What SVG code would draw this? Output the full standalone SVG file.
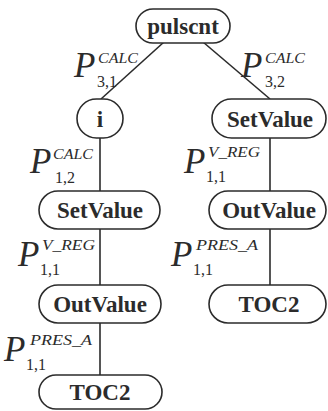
<svg xmlns="http://www.w3.org/2000/svg" width="328" height="411" viewBox="0 0 328 411">
  <style>
    .box { fill: #ffffff; stroke: #2b2b2b; stroke-width: 1.6; }
    .edge { stroke: #2b2b2b; stroke-width: 1.6; fill: none; }
    .name { font-family: "Liberation Serif", "Times New Roman", serif; font-weight: bold; font-size: 23px; fill: #2b2b2b; text-anchor: middle; }
    .p { font-family: "Liberation Serif", "Times New Roman", serif; font-style: italic; font-size: 35px; fill: #2b2b2b; }
    .sup { font-family: "Liberation Serif", "Times New Roman", serif; font-style: italic; font-size: 15.5px; fill: #2b2b2b; }
    .sub { font-family: "Liberation Serif", "Times New Roman", serif; font-size: 16px; fill: #2b2b2b; }
  </style>
  <rect width="328" height="411" fill="#ffffff"/>

  <!-- connectors -->
  <g id="connectors">
    <line class="edge" x1="164" y1="42" x2="101" y2="99"/>
    <line class="edge" x1="203" y1="42" x2="270" y2="99"/>
    <line class="edge" x1="100" y1="138" x2="100" y2="191"/>
    <line class="edge" x1="100" y1="229" x2="100" y2="285"/>
    <line class="edge" x1="100" y1="323" x2="100" y2="375"/>
    <line class="edge" x1="270" y1="138" x2="270" y2="191"/>
    <line class="edge" x1="270" y1="229" x2="270" y2="285"/>
  </g>

  <!-- edge labels -->
  <g id="labels">
    <g id="lbl-root-i">
      <text class="p" x="74" y="77">P</text>
      <text class="sup" x="98" y="63" textLength="40" lengthAdjust="spacingAndGlyphs">CALC</text>
      <text class="sub" x="97" y="87">3,1</text>
    </g>
    <g id="lbl-root-set">
      <text class="p" x="241" y="77">P</text>
      <text class="sup" x="265" y="63" textLength="40" lengthAdjust="spacingAndGlyphs">CALC</text>
      <text class="sub" x="265" y="87">3,2</text>
    </g>
    <g id="lbl-i-set">
      <text class="p" x="30" y="173">P</text>
      <text class="sup" x="53" y="159" textLength="40" lengthAdjust="spacingAndGlyphs">CALC</text>
      <text class="sub" x="55" y="183">1,2</text>
    </g>
    <g id="lbl-set-out-r">
      <text class="p" x="184" y="173">P</text>
      <text class="sup" x="208" y="157" textLength="52" lengthAdjust="spacingAndGlyphs">V_REG</text>
      <text class="sub" x="206" y="182">1,1</text>
    </g>
    <g id="lbl-set-out-l">
      <text class="p" x="18" y="266">P</text>
      <text class="sup" x="42" y="250" textLength="53" lengthAdjust="spacingAndGlyphs">V_REG</text>
      <text class="sub" x="40" y="275">1,1</text>
    </g>
    <g id="lbl-out-toc-r">
      <text class="p" x="171" y="266">P</text>
      <text class="sup" x="196" y="250" textLength="62" lengthAdjust="spacingAndGlyphs">PRES_A</text>
      <text class="sub" x="193" y="275">1,1</text>
    </g>
    <g id="lbl-out-toc-l">
      <text class="p" x="4" y="361">P</text>
      <text class="sup" x="30" y="345" textLength="62" lengthAdjust="spacingAndGlyphs">PRES_A</text>
      <text class="sub" x="26" y="370">1,1</text>
    </g>
  </g>

  <!-- nodes -->
  <g id="node-pulscnt">
    <rect class="box" x="136" y="9" width="94" height="34" rx="17"/>
    <text class="name" x="183" y="34">pulscnt</text>
  </g>
  <g id="node-i">
    <rect class="box" x="77" y="99" width="46" height="39" rx="19.5"/>
    <text class="name" x="100" y="127">i</text>
  </g>
  <g id="node-setvalue-r">
    <rect class="box" x="212" y="99" width="114" height="39" rx="19.5"/>
    <text class="name" x="270" y="127">SetValue</text>
  </g>
  <g id="node-setvalue-l">
    <rect class="box" x="39" y="191" width="121" height="38" rx="19"/>
    <text class="name" x="100" y="218">SetValue</text>
  </g>
  <g id="node-outvalue-r">
    <rect class="box" x="209" y="191" width="117" height="38" rx="19"/>
    <text class="name" x="269" y="218">OutValue</text>
  </g>
  <g id="node-outvalue-l">
    <rect class="box" x="39" y="285" width="122" height="38" rx="19"/>
    <text class="name" x="100" y="312">OutValue</text>
  </g>
  <g id="node-toc2-r">
    <rect class="box" x="209" y="285" width="117" height="38" rx="19"/>
    <text class="name" x="269" y="312">TOC2</text>
  </g>
  <g id="node-toc2-l">
    <rect class="box" x="39" y="375" width="123" height="34" rx="17"/>
    <text class="name" x="100" y="400">TOC2</text>
  </g>
</svg>
